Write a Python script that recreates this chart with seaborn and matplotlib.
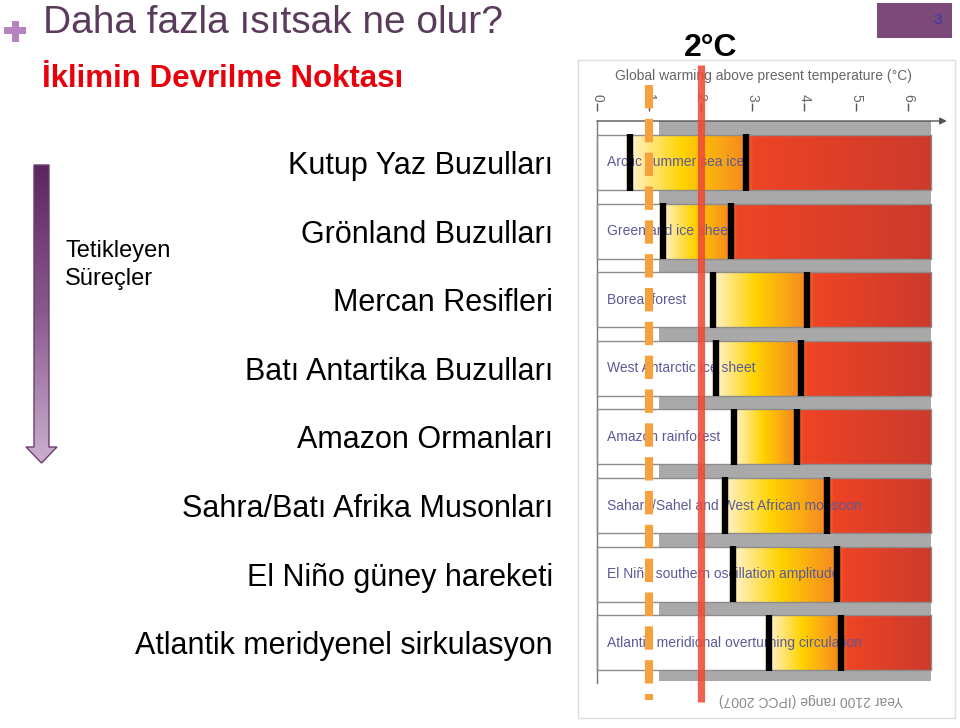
import numpy as np
import pandas as pd
import matplotlib
matplotlib.use("Agg")
import matplotlib.pyplot as plt
import matplotlib.transforms as mtransforms
from matplotlib.patches import Rectangle, Polygon
from matplotlib.colors import LinearSegmentedColormap, to_rgb
import seaborn as sns

# ---------------- data ----------------
processes_en = [
    "Arctic summer sea ice",
    "Greenland ice sheet",
    "Boreal forest",
    "West Antarctic ice sheet",
    "Amazon rainforest",
    "Sahara/Sahel and West African monsoon",
    "El Niño southern oscillation amplitude",
    "Atlantic meridional overturning circulation",
]
processes_tr = [
    "Kutup Yaz Buzulları",
    "Grönland Buzulları",
    "Mercan Resifleri",
    "Batı Antartika Buzulları",
    "Amazon Ormanları",
    "Sahra/Batı Afrika Musonları",
    "El Niño güney hareketi",
    "Atlantik meridyenel sirkulasyon",
]
threshold_low = [0.63, 1.27, 2.23, 2.29, 2.65, 2.46, 2.63, 3.31]
threshold_high = [2.88, 2.58, 4.06, 3.94, 3.85, 4.44, 4.63, 4.71]
scale_max = 6.45
temp_ticks = [0, 1, 2, 3, 4, 5, 6]
range_2100 = [1.2, 6.45]
present_warming = 1.0
target_warming = 2.0

# ---------------- style ----------------
sns.set_style("white")
plt.rcParams["font.family"] = ["Liberation Sans", "DejaVu Sans"]

W, H = 960, 728
fig = plt.figure(figsize=(W / 100, H / 100), dpi=100)
fig.patch.set_facecolor("white")

# slide background axes in pixel coordinates
bg = fig.add_axes([0, 0, 1, 1], zorder=0)
bg.set_xlim(0, W)
bg.set_ylim(H, 0)
bg.axis("off")

# chart axes (right panel)
PX0, PXW, PY0, PYH = 578, 377, 60, 658
ax = fig.add_axes([PX0 / W, 1 - (PY0 + PYH) / H, PXW / W, PYH / H], zorder=1)
ax.patch.set_visible(False)

df = pd.DataFrame({"process": processes_en,
                   "end": [scale_max] * len(processes_en)})
sns.barplot(data=df, x="end", y="process", orient="h", color="white",
            edgecolor="#8c8c8c", linewidth=1.0, width=0.8,
            errorbar=None, ax=ax)
bars = list(ax.patches)

# px -> data helpers (scale: 0 at 597px, 51.83 px/deg; row0 at 162.5px, 68.6 px/row)
x_per_px = 1 / 51.83
xlim = ((PX0 - 597) * x_per_px, (PX0 + PXW - 597) * x_per_px)
ylim = ((PY0 + PYH - 162.5) / 68.6, (PY0 - 162.5) / 68.6)


def gradient_row(lo, hi, n=700):
    xs = np.linspace(0, scale_max, n)
    sx = [0, lo - 0.12, lo + 0.02, lo + 0.45 * (hi - lo), hi - 0.05, hi + 0.12, scale_max]
    sc = ["#ffffff", "#ffffff", "#fff2c8", "#ffd300", "#f68a1f", "#ee4425", "#cc3a2c"]
    rgb = np.array([to_rgb(c) for c in sc])
    out = np.stack([np.interp(xs, sx, rgb[:, k]) for k in range(3)], axis=-1)
    return out[np.newaxis, :, :]


for bar, lo, hi in zip(bars, threshold_low, threshold_high):
    y0 = bar.get_y()
    h = bar.get_height()
    im = ax.imshow(gradient_row(lo, hi), extent=[0, scale_max, y0 + h, y0],
                   aspect="auto", interpolation="bilinear", zorder=2)
    im.set_clip_path(bar)
    bar.set_facecolor("none")
    bar.set_zorder(3)

# grey "Year 2100 range" strip behind bars
top_line = (121 - 162.5) / 68.6
strip_bottom = (681 - 162.5) / 68.6
ax.add_patch(Rectangle((range_2100[0], top_line), range_2100[1] - range_2100[0],
                       strip_bottom - top_line, facecolor="#a9a9a9",
                       edgecolor="none", zorder=0.5))

# in-bar english labels
rows = np.arange(len(processes_en))
for r, name in zip(rows, processes_en):
    ax.text(0.19, r, name, ha="left", va="center", fontsize=10,
            color="#5a5a98", zorder=3.5)

# threshold markers
ax.vlines(threshold_low, rows - 0.41, rows + 0.41, colors="black", lw=4.6, zorder=4)
ax.vlines(threshold_high, rows - 0.41, rows + 0.41, colors="black", lw=4.6, zorder=4)

# axis with ticks above a separate arrow line
ax.xaxis.set_ticks_position("top")
tick_base = (111 - 162.5) / 68.6
ax.spines["top"].set_position(("data", tick_base))
ax.spines["top"].set_color("none")
ax.spines["right"].set_visible(False)
ax.spines["bottom"].set_visible(False)
ax.spines["left"].set_position(("data", 0))
ax.spines["left"].set_bounds(top_line, (683 - 162.5) / 68.6)
ax.spines["left"].set_color("#777777")
ax.spines["left"].set_linewidth(1)
ax.set_xticks(temp_ticks)
ax.set_xticklabels([str(t) for t in temp_ticks], rotation=-90)
ax.tick_params(axis="x", direction="out", length=6, width=1, color="#555555",
               labelsize=10, labelcolor="#666666", pad=1)
ax.set_yticks([])
ax.set_xlabel("")
ax.set_ylabel("")
ax.annotate("", xy=(6.75, top_line), xytext=(0, top_line),
            arrowprops=dict(arrowstyle="-|>", color="#555555", lw=1,
                            mutation_scale=10, shrinkA=0, shrinkB=0), zorder=3)

ax.text(3.21, (76 - 162.5) / 68.6, "Global warming above present temperature (°C)",
        ha="center", va="center", fontsize=10, color="#666666")
ax.text(4.13, (700 - 162.5) / 68.6, "Year 2100 range (IPCC 2007)", rotation=180,
        ha="center", va="center", fontsize=10, color="#8a8a8a")

# reference lines
ax.plot([present_warming, present_warming], [(85 - 162.5) / 68.6, (700 - 162.5) / 68.6],
        color="#f7a13d", lw=5.8, dashes=(2.9, 1.3), dash_capstyle="butt",
        solid_capstyle="butt", zorder=6)
ax.plot([target_warming, target_warming], [(65 - 162.5) / 68.6, (702 - 162.5) / 68.6],
        color="#ef4a36", lw=5.2, alpha=0.88, solid_capstyle="butt", zorder=6)

ax.set_xlim(*xlim)
ax.set_ylim(*ylim)

# ---------------- slide decorations ----------------
bg.add_patch(Rectangle((PX0, PY0), PXW, PYH, fill=False, ec="#dedede", lw=1))
bg.text(711, 48, "2°C", ha="center", va="center", fontsize=23,
        fontweight="bold", color="black")

# page number box
bg.add_patch(Rectangle((877, 3), 75, 35, facecolor="#7b4a7b", edgecolor="none"))
bg.text(938, 20, "3", ha="center", va="center", fontsize=11, color="#3a3aa8")

# plus sign
bg.add_patch(Rectangle((4, 27), 22, 7, facecolor="#b583c2", edgecolor="none"))
bg.add_patch(Rectangle((12, 21), 7, 21, facecolor="#b583c2", edgecolor="none"))

bg.text(43, 33, "Daha fazla ısıtsak ne olur?", ha="left", va="baseline",
        fontsize=28, color="#5a3b5c")
bg.text(42, 87, "İklimin Devrilme Noktası", ha="left", va="baseline",
        fontsize=22.5, fontweight="bold", color="#e8000b")

# gradient arrow
arrow_pts = [(34, 165), (49, 165), (49, 447), (57, 447), (41.5, 463), (26, 447), (34, 447)]
poly = Polygon(arrow_pts, closed=True, fc="none", ec="#6d3d6f", lw=1, zorder=3)
bg.add_patch(poly)
cmap = LinearSegmentedColormap.from_list("purp", ["#5c2660", "#8a5a8e", "#cbb0d0"])
gim = bg.imshow(np.linspace(0, 1, 256)[:, None], extent=[26, 57, 463, 165],
                cmap=cmap, aspect="auto", zorder=2)
gim.set_clip_path(poly)

bg.text(65, 257, "Tetikleyen", ha="left", va="baseline", fontsize=17, color="black")
bg.text(65, 285, "Süreçler", ha="left", va="baseline", fontsize=17, color="black")

# turkish labels tied to chart rows
trans = mtransforms.blended_transform_factory(bg.transData, ax.transData)
for r, name in zip(rows, processes_tr):
    bg.text(553, r + 0.05, name, transform=trans, ha="right", va="center",
            fontsize=22, color="black", clip_on=False)

bg.set_xlim(0, W)
bg.set_ylim(H, 0)

fig.savefig("out.png", dpi=100, facecolor="white")
